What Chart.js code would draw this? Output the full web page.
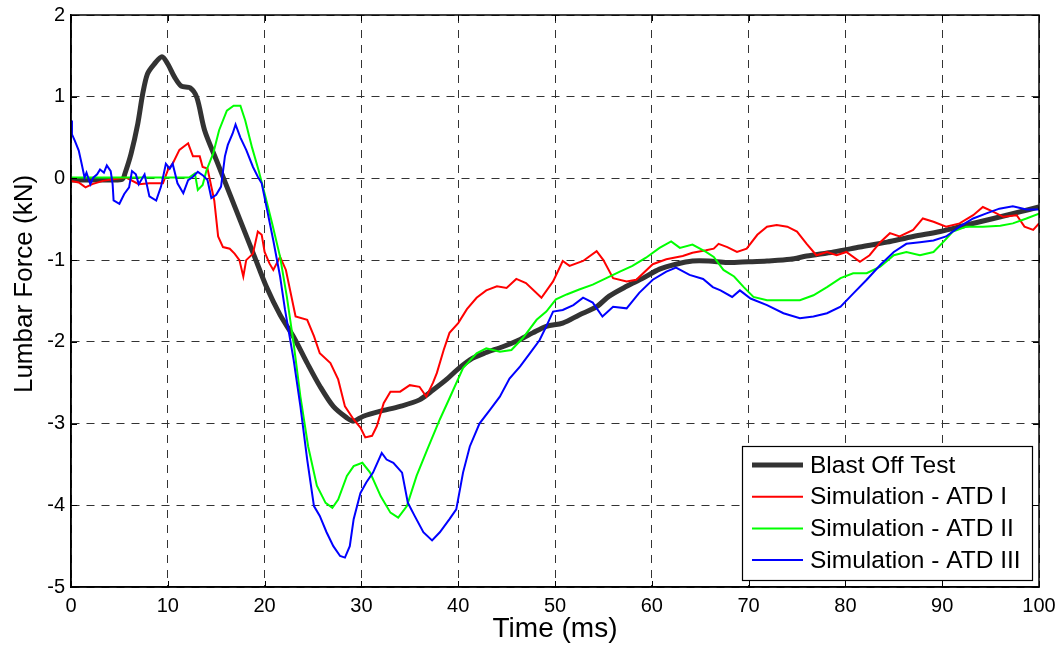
<!DOCTYPE html>
<html>
<head>
<meta charset="utf-8">
<script src="https://cdn.jsdelivr.net/npm/chart.js@4"></script>
<style>
  html, body { margin: 0; padding: 0; background: #fff; }
  #wrap { width: 1059px; height: 647px; }
</style>
</head>
<body>
<div id="wrap"><canvas id="plot" width="1059" height="647"></canvas></div>
<script>
// ── Data ──────────────────────────────────────────────────────────────────────
const seriesNames = ['Blast Off Test', 'Simulation - ATD I', 'Simulation - ATD II', 'Simulation - ATD III'];
const xTicks = [0, 10, 20, 30, 40, 50, 60, 70, 80, 90, 100];
const yTicks = [-5, -4, -3, -2, -1, 0, 1, 2];
const xTitle = 'Time (ms)';
const yTitle = 'Lumbar Force (kN)';

const blastT = [0, 2, 4, 5.3, 5.6, 6.2, 6.9, 7.4, 7.9, 8.6, 9.4, 10, 10.7, 11.4, 12.3, 13, 13.8, 15, 16, 17, 18, 19, 20.2, 21.6, 23, 24.4, 25.7, 27.1, 28.5, 29.2, 30.2, 31.9, 34, 36, 37.4, 38.8, 40, 41.5, 42.9, 44.6, 46.4, 47.7, 49.1, 50.8, 52.5, 54.3, 55.6, 57.4, 59.1, 60.8, 62.5, 64.2, 65.9, 67.8, 70, 71.9, 74.3, 76, 78.8, 81.5, 84.3, 87, 89.8, 92.5, 95.3, 98, 100];
const blastF = [-0.02, -0.02, -0.02, -0.01, 0.07, 0.3, 0.67, 1.03, 1.28, 1.4, 1.49, 1.4, 1.24, 1.13, 1.11, 0.99, 0.59, 0.23, -0.07, -0.37, -0.67, -0.97, -1.33, -1.67, -1.94, -2.26, -2.54, -2.79, -2.93, -2.97, -2.91, -2.85, -2.79, -2.71, -2.59, -2.46, -2.33, -2.2, -2.13, -2.06, -1.97, -1.89, -1.81, -1.77, -1.67, -1.57, -1.44, -1.32, -1.22, -1.11, -1.05, -1.01, -1.01, -1.03, -1.02, -1.01, -0.99, -0.95, -0.9, -0.84, -0.78, -0.71, -0.65, -0.57, -0.49, -0.41, -0.35];

const atd1T = [0, 0.8, 1.5, 2.2, 3.3, 4.3, 5.7, 7, 8.1, 9.5, 10, 10.5, 11.2, 12.1, 12.6, 13.3, 13.6, 14.1, 14.8, 15.2, 15.7, 16.4, 16.9, 17.4, 17.8, 18.1, 18.8, 19.3, 19.7, 20, 20.5, 20.9, 21.6, 22.2, 23.2, 24.4, 25.1, 25.7, 26.8, 27.6, 28.3, 29.2, 29.9, 30.4, 31.1, 31.6, 32.3, 33, 34, 35, 36, 36.7, 37.4, 37.8, 38.5, 39.1, 40, 40.9, 41.9, 42.9, 44, 45, 46, 47, 48.6, 49.8, 50.8, 51.5, 52.9, 54.3, 55, 56, 57.4, 58.4, 60.1, 61.5, 63.2, 64.2, 65.6, 66.4, 66.9, 67.8, 68.8, 69.8, 70.9, 71.9, 72.9, 74, 75, 76, 77, 78.1, 79.1, 80.1, 81.5, 82.5, 83.6, 84.6, 85.6, 87, 88, 89.1, 90.4, 91.8, 93.2, 94.2, 95.3, 96.3, 97.7, 98.5, 99.4, 100];
const atd1F = [-0.03, -0.05, -0.11, -0.07, -0.03, -0.01, 0.01, -0.07, -0.06, -0.06, 0.1, 0.18, 0.35, 0.43, 0.27, 0.27, 0.14, 0.12, -0.27, -0.71, -0.84, -0.86, -0.92, -1.0, -1.2, -1.0, -0.92, -0.65, -0.69, -0.9, -1.04, -1.12, -0.96, -1.12, -1.69, -1.73, -1.93, -2.14, -2.26, -2.46, -2.79, -2.95, -3.05, -3.17, -3.15, -3.03, -2.75, -2.61, -2.61, -2.53, -2.55, -2.67, -2.5, -2.38, -2.1, -1.89, -1.77, -1.6, -1.46, -1.37, -1.32, -1.34, -1.23, -1.28, -1.46, -1.26, -1.01, -1.07, -1.01, -0.89, -1.0, -1.22, -1.26, -1.24, -1.05, -0.99, -0.95, -0.91, -0.88, -0.86, -0.8, -0.84, -0.9, -0.86, -0.69, -0.59, -0.57, -0.59, -0.65, -0.8, -0.94, -0.9, -0.94, -0.9, -1.02, -0.94, -0.78, -0.67, -0.71, -0.63, -0.49, -0.53, -0.59, -0.55, -0.45, -0.35, -0.41, -0.47, -0.45, -0.59, -0.63, -0.55];

const atd2T = [0, 12.2, 12.8, 13.1, 13.6, 14, 14.7, 15.3, 16.1, 16.8, 17.5, 18, 18.7, 19.4, 20.1, 20.8, 21.6, 22.3, 23, 23.7, 24.5, 25.4, 26.3, 27, 27.6, 28.5, 29.2, 30.1, 30.9, 32, 33, 33.8, 34.7, 35.7, 36.8, 38.1, 39.1, 40.5, 41.9, 42.9, 44.3, 45.5, 46.7, 48.1, 49.1, 50.1, 51.2, 52.5, 53.9, 55.3, 56.7, 58, 59.4, 60.8, 62, 62.9, 64.2, 65.6, 66.4, 67.4, 68.5, 69.5, 70.5, 71.9, 73.6, 75.3, 76.7, 78.1, 79.5, 80.8, 82.2, 83.6, 85, 86.3, 87.7, 89.1, 90.1, 91.1, 92.5, 94.2, 96, 97.3, 98.7, 100];
const atd2F = [0.01, 0.01, 0.06, -0.14, -0.08, 0.1, 0.31, 0.59, 0.83, 0.89, 0.89, 0.71, 0.38, 0.09, -0.23, -0.56, -0.96, -1.45, -2.02, -2.67, -3.28, -3.76, -3.97, -4.03, -3.93, -3.64, -3.52, -3.48, -3.6, -3.89, -4.09, -4.15, -4.01, -3.64, -3.32, -2.95, -2.69, -2.32, -2.14, -2.08, -2.12, -2.1, -1.95, -1.73, -1.63, -1.48, -1.42, -1.36, -1.3, -1.22, -1.14, -1.07, -0.97, -0.85, -0.77, -0.85, -0.81, -0.9, -0.96, -1.12, -1.2, -1.33, -1.45, -1.49, -1.49, -1.49, -1.43, -1.33, -1.22, -1.16, -1.16, -1.08, -0.94, -0.9, -0.94, -0.9, -0.78, -0.65, -0.59, -0.59, -0.58, -0.55, -0.49, -0.43];

const atd3T = [0, 0.1, 0.4, 0.8, 1.1, 1.4, 1.6, 2, 2.3, 2.7, 3, 3.4, 3.7, 4.1, 4.3, 4.4, 5, 5.5, 6, 6.3, 6.7, 7, 7.6, 8.1, 8.8, 9.3, 9.8, 10.2, 10.5, 11, 11.6, 12.1, 12.6, 13.1, 13.6, 14.1, 14.5, 15, 15.5, 15.9, 16.2, 16.7, 17, 17.5, 18.1, 18.8, 19.3, 19.7, 20.2, 20.9, 21.6, 22.1, 23, 23.7, 24.4, 25.1, 25.7, 26.4, 27.1, 27.8, 28.3, 28.8, 29.2, 29.9, 30.5, 31.2, 32.1, 32.6, 33.3, 34.2, 34.8, 35.5, 36.4, 37.3, 38.1, 39.1, 39.8, 40.5, 41.2, 42.2, 43.3, 44.3, 45.3, 46.4, 47.4, 48.4, 49.1, 49.8, 50.8, 51.9, 52.9, 53.9, 54.9, 56, 57.4, 58.7, 60.1, 61.5, 62.5, 63.9, 65.3, 66.3, 67.1, 68.3, 69.1, 70.2, 71.9, 73.6, 75.3, 76.7, 78.1, 79.5, 80.8, 82.2, 83.6, 85, 86.3, 87.7, 89.1, 90.4, 91.8, 93.2, 94.5, 95.9, 97.3, 98.7, 100];
const atd3F = [0.71, 0.54, 0.46, 0.34, 0.18, 0.01, 0.07, -0.07, 0.01, 0.05, 0.11, 0.07, 0.16, 0.09, -0.07, -0.27, -0.31, -0.19, -0.11, 0.09, 0.05, -0.07, 0.05, -0.22, -0.27, -0.1, 0.18, 0.12, 0.18, -0.06, -0.18, -0.02, 0.02, 0.08, 0.04, -0.02, -0.24, -0.2, -0.1, 0.27, 0.41, 0.55, 0.66, 0.5, 0.35, 0.14, 0.02, -0.06, -0.35, -0.76, -1.2, -1.6, -2.22, -2.79, -3.44, -4.01, -4.13, -4.33, -4.5, -4.62, -4.64, -4.5, -4.17, -3.85, -3.72, -3.6, -3.36, -3.44, -3.48, -3.6, -3.97, -4.13, -4.33, -4.43, -4.33, -4.17, -4.05, -3.6, -3.28, -3.0, -2.83, -2.67, -2.45, -2.3, -2.14, -1.98, -1.81, -1.63, -1.61, -1.55, -1.46, -1.52, -1.69, -1.57, -1.59, -1.4, -1.24, -1.14, -1.09, -1.18, -1.23, -1.33, -1.37, -1.45, -1.37, -1.47, -1.55, -1.65, -1.71, -1.69, -1.65, -1.57, -1.41, -1.24, -1.06, -0.9, -0.8, -0.78, -0.76, -0.71, -0.59, -0.49, -0.43, -0.37, -0.34, -0.38, -0.38];

const seriesColors = ['#333333', '#ff0000', '#00ff00', '#0000ff'];
const seriesWidths = [5, 2, 2, 2];

// ── Helpers ───────────────────────────────────────────────────────────────────
const pairs = (t, f) => t.map((x, i) => ({ x, y: f[i] }));
const FONT = "'Liberation Sans', Arial, sans-serif";

// MATLAB style: solid box round the axes, small ticks pointing inwards
const boxPlugin = {
    id: 'box',
    afterDatasetsDraw(c) {
        const { ctx, chartArea: a, scales: { x, y } } = c;
        ctx.save();
        ctx.strokeStyle = '#000';
        ctx.lineWidth = 1;
        ctx.beginPath();
        xTicks.forEach(v => {
            const px = Math.round(x.getPixelForValue(v)) + 0.5;
            ctx.moveTo(px, a.bottom); ctx.lineTo(px, a.bottom - 6);
            ctx.moveTo(px, a.top); ctx.lineTo(px, a.top + 6);
        });
        yTicks.forEach(v => {
            const py = Math.round(y.getPixelForValue(v)) + 0.5;
            ctx.moveTo(a.left, py); ctx.lineTo(a.left + 6, py);
            ctx.moveTo(a.right, py); ctx.lineTo(a.right - 6, py);
        });
        ctx.stroke();
        ctx.lineWidth = 1.5;
        ctx.strokeRect(a.left, a.top, a.right - a.left, a.bottom - a.top);
        ctx.restore();
    }
};

// y label: MATLAB puts it a little above the axis centre
const yTitlePlugin = {
    id: 'yTitle',
    afterDraw(c) {
        const { ctx } = c;
        ctx.save();
        ctx.translate(25, 284);
        ctx.rotate(-Math.PI / 2);
        ctx.font = `26px ${FONT}`;
        ctx.fillStyle = '#000';
        ctx.textAlign = 'center';
        ctx.textBaseline = 'middle';
        ctx.fillText(yTitle, 0, 0);
        ctx.restore();
    }
};

// Legend box sits inside the axes, lower right
const legendPlugin = {
    id: 'innerLegend',
    afterDraw(c) {
        const { ctx } = c;
        const bx = 742, by = 446, bw = 290, bh = 134;
        ctx.save();
        ctx.fillStyle = '#fff';
        ctx.fillRect(bx, by, bw, bh);
        ctx.strokeStyle = '#000';
        ctx.lineWidth = 1.2;
        ctx.strokeRect(bx + 0.5, by + 0.5, bw, bh);
        ctx.font = `24.5px ${FONT}`;
        ctx.textBaseline = 'middle';
        c.data.datasets.forEach((ds, i) => {
            const rowY = by + 19 + i * 31.7;
            ctx.strokeStyle = ds.borderColor;
            ctx.lineWidth = ds.borderWidth;
            ctx.beginPath();
            ctx.moveTo(752, rowY); ctx.lineTo(803, rowY);
            ctx.stroke();
            ctx.fillStyle = '#000';
            ctx.fillText(ds.label, 810, rowY + 1);
        });
        ctx.restore();
    }
};

// ── Chart ─────────────────────────────────────────────────────────────────────
const datasets = [
    [blastT, blastF], [atd1T, atd1F], [atd2T, atd2F], [atd3T, atd3F]
].map(([t, f], i) => ({
    label: seriesNames[i],
    data: pairs(t, f),
    borderColor: seriesColors[i],
    borderWidth: seriesWidths[i],
    pointRadius: 0,
    tension: i === 0 ? 0.3 : 0,
    fill: false,
    order: 3 - i   // later series drawn on top, like MATLAB
}));

new Chart(document.getElementById('plot'), {
    type: 'line',
    data: { datasets },
    plugins: [boxPlugin, yTitlePlugin, legendPlugin],
    options: {
        responsive: false,
        animation: false,
        events: [],
        layout: { padding: { left: 0, top: 15, right: 20, bottom: 0 } },
        plugins: { legend: { display: false }, tooltip: { enabled: false } },
        scales: {
            x: {
                type: 'linear',
                min: 0, max: 100,
                afterBuildTicks: s => { s.ticks = xTicks.map(v => ({ value: v })); },
                afterFit: s => { s.height = 60; s.paddingLeft = 0; s.paddingRight = 0; },
                grid: { color: '#333', lineWidth: 1, drawTicks: false },
                border: { display: true, color: '#000', width: 1.5, dash: [8, 7] },
                ticks: { color: '#000', padding: 7, font: { family: FONT, size: 20 }, maxRotation: 0 },
                title: { display: true, text: xTitle, color: '#000', padding: { top: 0, bottom: 1 }, font: { family: FONT, size: 28 } }
            },
            y: {
                type: 'linear',
                min: -5, max: 2,
                afterBuildTicks: s => { s.ticks = yTicks.map(v => ({ value: v })); },
                afterFit: s => { s.width = 71; s.paddingTop = 0; s.paddingBottom = 0; },
                grid: { color: '#333', lineWidth: 1, drawTicks: false },
                border: { display: true, color: '#000', width: 1.5, dash: [8, 7] },
                ticks: { color: '#000', padding: 6, font: { family: FONT, size: 20 } },
                title: { display: false, text: yTitle }
            }
        }
    }
});
</script>
</body>
</html>
